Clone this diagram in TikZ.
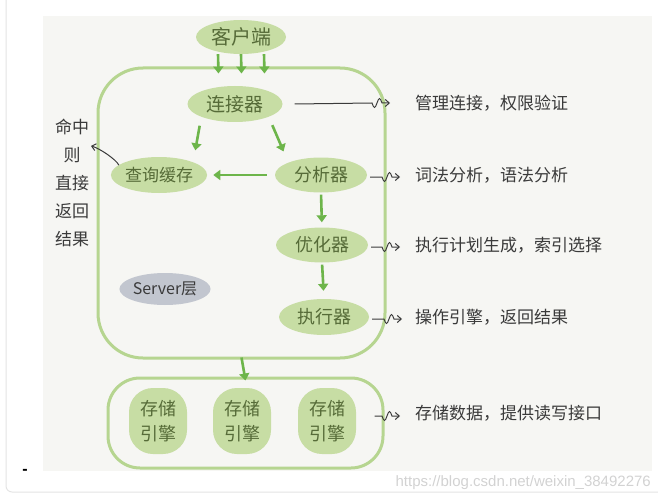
\documentclass[tikz,border=0pt]{standalone}
\usepackage{fontspec}
\setmainfont{Noto Sans CJK SC}
\newfontfamily\latinfont{Liberation Sans}
\usetikzlibrary{shapes.geometric, arrows.meta, calc}

\definecolor{panel}{HTML}{F6F6F3}
\definecolor{pageline}{HTML}{E4E4E4}
\definecolor{nodegreen}{HTML}{C7DDA4}
\definecolor{boxgreen}{HTML}{B6D590}
\definecolor{arrowgreen}{HTML}{6DB54A}
\definecolor{nodetext}{HTML}{566B38}
\definecolor{layergray}{HTML}{C2C6CF}
\definecolor{annot}{HTML}{3A3A3A}
\definecolor{wmgray}{HTML}{D2D2D2}

\tikzset{
  blob/.style={ellipse, fill=nodegreen, text=nodetext, inner sep=0pt, font=\fontsize{18}{18}\selectfont},
  engine/.style={rounded corners=24pt, fill=nodegreen, text=nodetext, minimum width=58pt, minimum height=66pt, inner sep=0pt, align=center, font=\fontsize{18}{25}\selectfont},
  frame/.style={draw=boxgreen, line width=3pt, inner sep=0pt},
  flow/.style={line width=2.6pt, draw=arrowgreen, -{Triangle[width=10pt, length=7pt]}},
  remark/.style={line width=1pt, draw=annot, -{Straight Barb[length=4pt, width=7pt]},
    to path={-- ($(\tikztotarget)+(-18,0)$) .. controls +(2,6) and +(-2,6) .. ++(5,0) .. controls +(2,-6) and +(-2,-6) .. ++(5,0) -- (\tikztotarget)}},
  label/.style={anchor=west, text=annot, inner sep=0pt, font=\fontsize{17}{17}\selectfont}
}

\begin{document}
\begin{tikzpicture}[x=1pt, y=-1pt]
		\useasboundingbox (0,0) rectangle (658,500);
		\draw[pageline, line width=1pt, rounded corners=6pt] (6,-5) -- (6,492) -- (665,492);
		\fill[panel] (43,16) rectangle (652,471);
		\node[anchor=east, inner sep=0pt, text=wmgray, font=\latinfont\fontsize{15}{15}\selectfont] (wm) at (651,483) {https://blog.csdn.net/weixin\_38492276};
		\node[inner sep=0pt, font=\latinfont\bfseries\fontsize{16}{16}\selectfont] (dash) at (25,472) {-};

		\node[frame, rounded corners=45pt, minimum width=287pt, minimum height=290pt] (server) at (241.5,213) {};
		\node[frame, rounded corners=32pt, minimum width=275pt, minimum height=90pt] (storage) at (245.5,423) {};

		\node[blob, minimum width=90pt, minimum height=34pt, font=\fontsize{20}{20}\selectfont] (client) at (241,37) {客户端};
		\node[blob, minimum width=95pt, minimum height=36pt, font=\fontsize{19}{19}\selectfont] (conn) at (235,104) {连接器};
		\node[blob, minimum width=94pt, minimum height=36pt, font=\fontsize{17}{17}\selectfont] (cache) at (159,175) {查询缓存};
		\node[blob, minimum width=92pt, minimum height=35pt] (parser) at (321,175) {分析器};
		\node[blob, minimum width=92pt, minimum height=35pt] (optim) at (322,245) {优化器};
		\node[blob, minimum width=90pt, minimum height=36pt] (exec) at (324,317) {执行器};
		\node[ellipse, fill=layergray, text=annot, inner sep=0pt, minimum width=90pt, minimum height=32pt, font=\fontsize{16}{16}\selectfont] (layer) at (165,289) {Server层};
		\foreach \n/\x in {1/158, 2/242, 3/327}
			\node[engine] (eng\n) at (\x,421) {存储\\引擎};

		\node[align=center, text=annot, inner sep=0pt, font=\fontsize{17}{28}\selectfont] (hit) at (72,183) {命中\\则\\直接\\返回\\结果};
		\node[label] (t1) at (415,103) {管理连接，权限验证};
		\node[label] (t2) at (415,175) {词法分析，语法分析};
		\node[label] (t3) at (415,245) {执行计划生成，索引选择};
		\node[label] (t4) at (415,317) {操作引擎，返回结果};
		\node[label] (t5) at (415,413) {存储数据，提供读写接口};

		\draw[flow] ([xshift=-23pt]client.south) -- ([xshift=-23pt, yshift=-7pt]server.north);
		\draw[flow] (client.south) -- ([yshift=-7pt]server.north);
		\draw[flow] ([xshift=23pt]client.south) -- ([xshift=23pt, yshift=-7pt]server.north);
		\draw[flow, shorten <=9pt, shorten >=12pt] (conn.south west) -- (cache.north east);
		\draw[flow, shorten <=9pt, shorten >=12pt] (conn.south east) -- (parser.north west);
		\draw[flow, shorten <=8pt, shorten >=6pt] (parser.west) -- (cache.east);
		\draw[flow, shorten <=2pt, shorten >=5pt] (parser.south) -- (optim.north);
		\draw[flow, shorten <=2pt, shorten >=8pt] (optim.south) -- (exec.north);
		\draw[flow] ([yshift=2pt]server.south) -- ([yshift=-4pt]storage.north);

		\coordinate (hitend) at (91,146);
		\draw[line width=1pt, annot, -{Straight Barb[length=4pt, width=7pt]}] ([xshift=-6pt, yshift=-3pt]cache.north west) .. controls +(-3,-6) and +(8,2) .. (hitend);
		\draw[remark] ([xshift=12pt]conn.east) to ([xshift=-25pt]t1.west);
		\draw[remark] ([xshift=3pt, yshift=-2pt]parser.east) to ([xshift=-15pt, yshift=-2pt]t2.west);
		\draw[remark] ([xshift=3pt, yshift=-2pt]optim.east) to ([xshift=-15pt, yshift=-2pt]t3.west);
		\draw[remark] ([xshift=3pt, yshift=-2pt]exec.east) to ([xshift=-13pt, yshift=-2pt]t4.west);
		\draw[remark] ([xshift=-10pt, yshift=-3pt]storage.east |- t5.west) to ([xshift=-15pt, yshift=-3pt]t5.west);
	\end{tikzpicture}
\end{document}
